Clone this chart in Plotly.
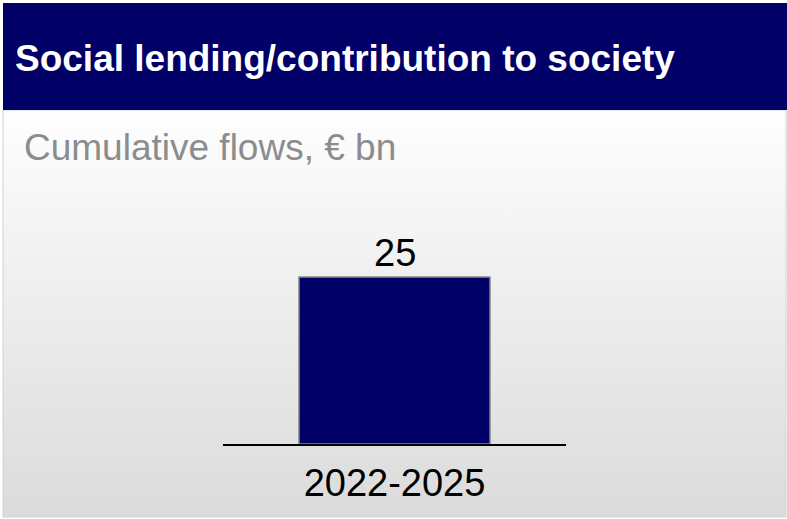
import plotly.graph_objects as go

# Chart data
periods = ["2022-2025"]
flows_bn = [25]

title_text = "Social lending/contribution to society"
subtitle_text = "Cumulative flows, € bn"

W, H = 787, 519
NAVY = "#000066"
FONT = "Liberation Sans, Arial, sans-serif"

fig = go.Figure()

# Panel background with a soft vertical gradient (pixel-space helper axes)
fig.add_trace(go.Scatter(
    x=[3, 786, 786, 3, 3],
    y=[110, 110, 517, 517, 110],
    mode="lines",
    fill="toself",
    fillgradient=dict(type="vertical", start=110, stop=517,
                      colorscale=[[0, "#fefefe"], [1, "#dbdbdb"]]),
    line=dict(color="#d2d2d2", width=1),
    hoverinfo="skip",
    showlegend=False,
    xaxis="x", yaxis="y",
))

# Bar of cumulative flows
fig.add_trace(go.Bar(
    x=periods,
    y=flows_bn,
    width=0.557,
    marker=dict(color=NAVY, line=dict(color="#8a8a8a", width=1.5)),
    hoverinfo="skip",
    showlegend=False,
    xaxis="x2", yaxis="y2",
))

# Value labels above the bars
for p, v in zip(periods, flows_bn):
    fig.add_annotation(
        x=p, y=v, xref="x2", yref="y2",
        text=f"{v:g}", showarrow=False,
        yanchor="bottom", yshift=1,
        font=dict(family=FONT, size=38, color="#000000"),
    )

y_bottom_px = 444
y_top_px = 243.6  # top of y range (30)

fig.update_layout(
    width=W, height=H,
    margin=dict(l=0, r=0, t=0, b=0),
    paper_bgcolor="#ffffff",
    plot_bgcolor="rgba(0,0,0,0)",
    xaxis=dict(domain=[0, 1], range=[0, W], visible=False, fixedrange=True),
    yaxis=dict(domain=[0, 1], range=[H, 0], visible=False, fixedrange=True),
    xaxis2=dict(
        domain=[223 / W, 566 / W], range=[-0.5, 0.5], anchor="y2",
        showline=True, linecolor="#000000", linewidth=1.5,
        showgrid=False, zeroline=False, ticks="",
        tickfont=dict(family=FONT, size=38, color="#000000"),
        ticklabelstandoff=5,
    ),
    yaxis2=dict(
        domain=[(H - y_bottom_px) / H, (H - y_top_px) / H],
        range=[0, 30], anchor="x2", visible=False,
    ),
    shapes=[
        dict(type="rect", xref="paper", yref="paper",
             x0=3 / W, x1=1, y0=(H - 110) / H, y1=(H - 3) / H,
             fillcolor=NAVY, line=dict(width=0), layer="above"),
    ],
)

fig.add_annotation(
    x=13 / W, y=(H - 58) / H, xref="paper", yref="paper",
    xanchor="left", yanchor="middle", showarrow=False,
    text=f"<b>{title_text}</b>",
    font=dict(family=FONT, size=37, color="#ffffff"),
)
fig.add_annotation(
    x=22 / W, y=(H - 147) / H, xref="paper", yref="paper",
    xanchor="left", yanchor="middle", showarrow=False,
    text=subtitle_text,
    font=dict(family=FONT, size=37, color="#8c8c8c"),
)

fig.write_html("out.html")
